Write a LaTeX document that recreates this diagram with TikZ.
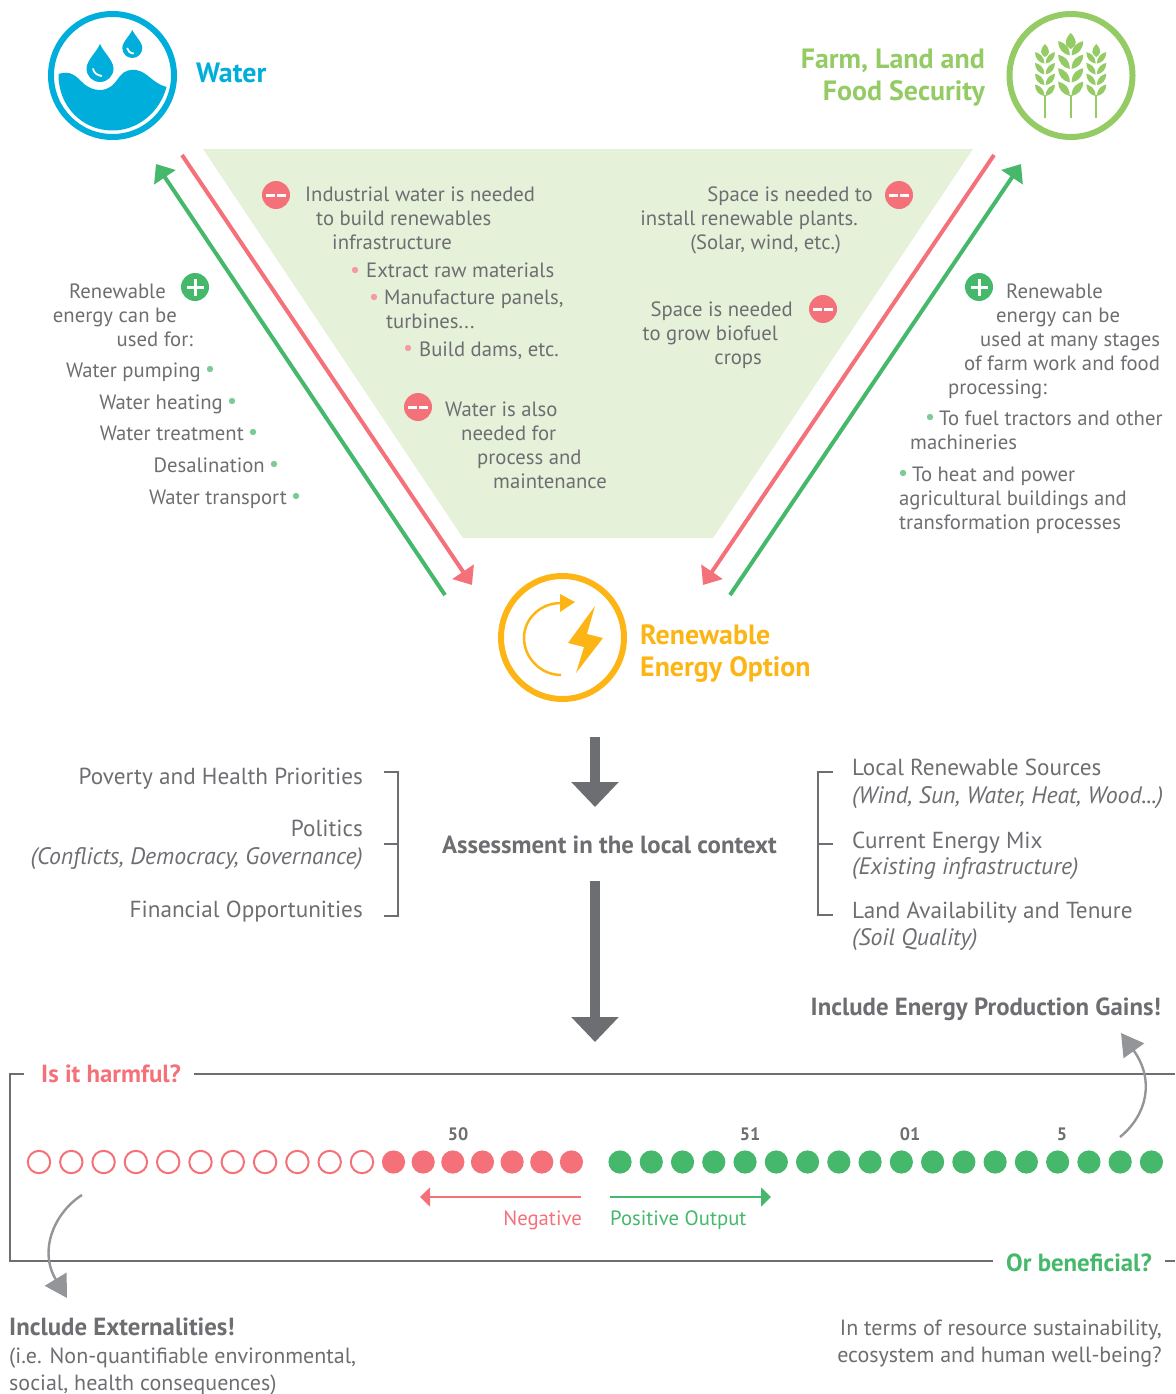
\documentclass[tikz,border=0pt]{standalone}
\usepackage{fontspec}
\setmainfont{PT Sans}
\usetikzlibrary{arrows.meta}
\definecolor{tg}{HTML}{6D6E71}
\definecolor{dg}{HTML}{6D6E71}
\definecolor{cg}{HTML}{939598}
\definecolor{wb}{HTML}{00AEDB}
\definecolor{lg}{HTML}{95CB65}
\definecolor{ye}{HTML}{FDB515}
\definecolor{rd}{HTML}{F4717A}
\definecolor{gr}{HTML}{45B86B}
\definecolor{tri}{HTML}{E6F1DA}
\definecolor{lr}{HTML}{F49AA0}
\definecolor{bg}{HTML}{7CCB97}
\newcommand{\wheat}[3]{%
 \begin{scope}[shift={(#1,96)},scale=#2]
  \foreach \k in {0,1,2,3}{
   \fill[lg,yshift=\k*10.8pt] (-0.7,0) .. controls (-6,-1) and (-10,-5) .. (-10,-11.5) .. controls (-6,-10.5) and (-0.7,-8) .. (-0.7,0);
   \fill[lg,yshift=\k*10.8pt] (0.7,0) .. controls (6,-1) and (10,-5) .. (10,-11.5) .. controls (6,-10.5) and (0.7,-8) .. (0.7,0);
  }
  \fill[lg] (0,-#3) .. controls (-3,-#3+3) and (-4,-#3+6) .. (-4,-#3+8) .. controls (-4,-#3+10) and (-1.5,-#3+12) .. (0,-#3+13) .. controls (1.5,-#3+12) and (4,-#3+10) .. (4,-#3+8) .. controls (4,-#3+6) and (3,-#3+3) .. (0,-#3);
 \end{scope}
 \draw[lg,line width=2] (#1,95) -- (#1,118);}
\newcommand{\dropshape}[3]{%
 \begin{scope}[shift={(#1,#2)},scale=#3]
  \fill[wb] (0,-24.5) .. controls (-3,-17) and (-13.5,-8) .. (-13.5,0) .. controls (-13.5,7.5) and (-7.5,13.5) .. (0,13.5) .. controls (7.5,13.5) and (13.5,7.5) .. (13.5,0) .. controls (13.5,-8) and (3,-17) .. (0,-24.5);
  \draw[white,line width=1.8] (-7,0) .. controls (-6.5,4) and (-3,7) .. (2,7.5);
 \end{scope}}
\tikzset{
 txt/.style={inner sep=0pt,anchor=base west,text=tg,font=\fontsize{20.7}{24}\selectfont},
 rtxt/.style={txt,anchor=base east},
 bigt/.style={txt,font=\fontsize{23.2}{26}\selectfont},
 rbigt/.style={bigt,anchor=base east},
 itt/.style={txt,font=\fontsize{23.8}{26}\itshape\selectfont},
 ritt/.style={itt,anchor=base east},
 head/.style={inner sep=0pt,anchor=base west,font=\fontsize{27.9}{30}\bfseries\selectfont},
 bold/.style={inner sep=0pt,anchor=base west,text=tg,font=\fontsize{24.8}{28}\bfseries\selectfont},
 num/.style={inner sep=0pt,anchor=base,text=tg,font=\fontsize{18}{20}\bfseries\selectfont},
 ring/.style={circle,draw,line width=6pt,minimum size=123pt,inner sep=0pt},
 diag/.style={line width=4pt},
 bracket/.style={draw=dg,line width=1.3pt},
 frameline/.style={draw=dg,line width=1.4pt},
 bigarrow/.style={draw=dg,line width=10pt,-{Triangle[length=25pt,width=46pt]}},
 curved/.style={draw=cg,line width=2.4pt,-{Triangle[length=22pt,width=25pt]}},
 minusdot/.style={circle,fill=rd,minimum size=28pt,inner sep=0pt},
 plusdot/.style={circle,fill=gr,minimum size=28pt,inner sep=0pt},
 wide/.style={font=\fontsize{22}{26}\selectfont},
}
\newcommand{\minusbars}[1]{\fill[white] ([xshift=-10pt,yshift=1.5pt]#1) rectangle +(9,3); \fill[white] ([xshift=1pt,yshift=1.5pt]#1) rectangle +(9,3);}
\newcommand{\plusbars}[1]{\fill[white] ([xshift=-8.5pt,yshift=1.5pt]#1) rectangle +(17,3); \fill[white] ([xshift=-1.5pt,yshift=8.5pt]#1) rectangle +(3,17);}
\begin{document}
\begin{tikzpicture}[x=1pt,y=-1pt]
\useasboundingbox (0,0) rectangle (1175,1394);
% triangle
\fill[tri] (203,149) -- (973,149) -- (713,538) -- (463,538) -- cycle;
% rings
\node[ring,draw=wb] (water) at (112.5,75.5) {};
\node[ring,draw=lg] (farm) at (1071,75.5) {};
\node[ring,draw=ye] (energy) at (562.5,637.5) {};
% water icon
\fill[wb] (58.5,74) .. controls (70,70) and (76,76) .. (82,82) .. controls (88,88) and (94,90) .. (100,90) .. controls (110,90) and (115,83) .. (120,76) .. controls (124,71) and (130,69) .. (136,70) .. controls (148,72) and (152,83) .. (166.5,87) .. controls (160,112) and (138,130.5) .. (112.5,130.5) .. controls (82,130.5) and (58,106) .. (58.5,74) -- cycle;
\dropshape{100}{68.5}{1}
\dropshape{132.3}{48}{0.74}
% wheat icon
\wheat{1045}{1}{52}
\wheat{1070.7}{1.25}{50.5}
\wheat{1096.3}{1}{52}
% energy icon
\draw[ye,line width=2.5] (561,675) .. controls (541,675) and (524,658) .. (524,638) .. controls (524,618) and (541,603) .. (561,603);
\fill[ye] (560,594) -- (575,602) -- (560,612) -- cycle;
\fill[ye] (595,606) -- (568,643) -- (584,647) -- (576,673) -- (603,638) -- (587,634) -- cycle;
% headings
\node[head,text=wb] (hw) at (196,82.5) {Water};
\node[head,text=lg,anchor=base east] (hf1) at (985,68.5) {Farm, Land and};
\node[head,text=lg,anchor=base east] (hf2) at (985,100.5) {Food Security};
\node[head,text=ye] (he1) at (640,644) {Renewable};
\node[head,text=ye] (he2) at (640,676) {Energy Option};
% diagonals
\coordinate (lra) at (182,155); \coordinate (lrb) at (472,585);
\coordinate (lga) at (445,595); \coordinate (lgb) at (156,164);
\coordinate (rra) at (994,155); \coordinate (rrb) at (703,585);
\coordinate (rga) at (730,595); \coordinate (rgb) at (1021,164);
\draw[diag,draw=rd,-{Triangle[length=16pt,width=25pt]}] (lra) -- (lrb);
\draw[diag,draw=gr,-{Triangle[length=16pt,width=25pt]}] (lga) -- (lgb);
\draw[diag,draw=rd,-{Triangle[length=16pt,width=25pt]}] (rra) -- (rrb);
\draw[diag,draw=gr,-{Triangle[length=16pt,width=25pt]}] (rga) -- (rgb);
% minus/plus
\node[minusdot] (m1) at (276,195) {}; \minusbars{m1}
\node[minusdot] (m2) at (899,195) {}; \minusbars{m2}
\node[minusdot] (m3) at (418,407) {}; \minusbars{m3}
\node[minusdot] (m4) at (823,309) {}; \minusbars{m4}
\node[plusdot] (p1) at (195,287) {}; \plusbars{p1}
\node[plusdot] (p2) at (979,287) {}; \plusbars{p2}
% triangle text
\node[txt] (a1) at (305,201) {Industrial water is needed};
\node[txt] (a2) at (316,225) {to build renewables};
\node[txt] (a3) at (332,249) {infrastructure};
\node[txt] (a4) at (366,277) {Extract raw materials};
\node[txt] (a5) at (384,304) {Manufacture panels,};
\node[txt] (a6) at (386,328) {turbines...};
\node[txt] (a7) at (419,356) {Build dams, etc.};
\fill[lr] (355,270) circle (3.2); \fill[lr] (374,297) circle (3.2); \fill[lr] (408,348) circle (3.2);
\node[txt] (a8) at (445,416) {Water is also};
\node[txt] (a9) at (461,440) {needed for};
\node[txt] (a10) at (477,464) {process and};
\node[txt] (a11) at (493,488) {maintenance};
\node[rtxt] (b1) at (873,201) {Space is needed to};
\node[rtxt] (b2) at (858,225) {install renewable plants.};
\node[rtxt] (b3) at (841,249) {(Solar, wind, etc.)};
\node[rtxt] (b4) at (793,316) {Space is needed};
\node[rtxt] (b5) at (778,340) {to grow biofuel};
\node[rtxt] (b6) at (762,364) {crops};
% left text
\node[rtxt] (c1) at (166,298) {Renewable};
\node[rtxt] (c2) at (177,322) {energy can be};
\node[rtxt] (c3) at (193,346) {used for:};
\node[rtxt] (c4) at (201,377) {Water pumping};
\node[rtxt] (c5) at (223,409) {Water heating};
\node[rtxt] (c6) at (244,440) {Water treatment};
\node[rtxt] (c7) at (265,472) {Desalination};
\node[rtxt] (c8) at (287,504) {Water transport};
\fill[bg] (210,369) circle (3.2); \fill[bg] (232,401) circle (3.2); \fill[bg] (253,432) circle (3.2); \fill[bg] (274,464) circle (3.2); \fill[bg] (296,496) circle (3.2);
% right text
\node[txt] (d1) at (1006,298) {Renewable};
\node[txt] (d2) at (996,322) {energy can be};
\node[txt] (d3) at (980,346) {used at many stages};
\node[txt] (d4) at (964,370) {of farm work and food};
\node[txt] (d5) at (948,394) {processing:};
\node[txt] (d6) at (939,425) {To fuel tractors and other};
\node[txt] (d7) at (910,449) {machineries};
\node[txt] (d8) at (912,481) {To heat and power};
\node[txt] (d9) at (899,505) {agricultural buildings and};
\node[txt] (d10) at (899,529) {transformation processes};
\fill[bg] (930,417) circle (3.2); \fill[bg] (903,473) circle (3.2);
% big arrows
\coordinate (ba1) at (595,737); \coordinate (bb1) at (595,807);
\coordinate (ba2) at (595,881); \coordinate (bb2) at (595,1042);
\draw[bigarrow] (ba1) -- (bb1);
\draw[bigarrow] (ba2) -- (bb2);
% context
\node[bold] (ctx) at (442,853) {Assessment in the local context};
\node[rbigt] (e1) at (363,784) {Poverty and Health Priorities};
\node[rbigt] (e2) at (363,836) {Politics};
\node[ritt] (e3) at (363,864) {(Conflicts, Democracy, Governance)};
\node[rbigt] (e4) at (363,917) {Financial Opportunities};
\draw[bracket] (384,772) -- (398,772) -- (398,916) -- (384,916);
\draw[bracket] (384,844) -- (398,844);
\node[bigt] (f1) at (852,775) {Local Renewable Sources};
\node[itt] (f2) at (852,803) {(Wind, Sun, Water, Heat, Wood...)};
\node[bigt] (f3) at (852,848) {Current Energy Mix};
\node[itt] (f4) at (852,874) {(Existing infrastructure)};
\node[bigt] (f5) at (852,918) {Land Availability and Tenure};
\node[itt] (f6) at (852,945) {(Soil Quality)};
\draw[bracket] (833,772) -- (818,772) -- (818,915) -- (833,915);
\draw[bracket] (818,844) -- (833,844);
% frame
\node[bold,text=rd] (harm) at (41,1082) {Is it harmful?};
\node[bold,text=gr] (ben) at (1006,1271) {Or beneficial?};
\draw[frameline] (24,1074) -- (10,1074) -- (10,1261) -- (993,1261);
\draw[frameline] (194,1074) -- (1175,1074);
\draw[frameline] (1165,1261) -- (1175,1261);
% dots
\foreach \i in {0,...,10} \draw[rd,line width=2] (39+\i*32.3,1162) circle (11.2);
\foreach \i in {0,...,6} \fill[rd] (393.5+\i*29.65,1162) circle (11.6);
\foreach \i in {0,...,17} \fill[gr] (620+\i*31.26,1162) circle (11.6);
\node[num] (n1) at (458,1140) {50};
\node[num] (n2) at (750,1140) {51};
\node[num] (n3) at (910,1140) {01};
\node[num] (n4) at (1062,1140) {5};
% output arrows
\coordinate (na) at (581,1197); \coordinate (nb) at (420,1197);
\coordinate (pa) at (610,1197); \coordinate (pb) at (771,1197);
\draw[rd,line width=1.8,-{Triangle[length=10pt,width=19pt]}] (na) -- (nb);
\draw[gr,line width=1.8,-{Triangle[length=10pt,width=19pt]}] (pa) -- (pb);
\node[rtxt,text=rd] (neg) at (582,1225) {Negative};
\node[txt,text=gr] (pos) at (610,1225) {Positive Output};
% curved
\coordinate (ca) at (82,1195); \coordinate (cb) at (67,1298);
\coordinate (da) at (1120,1137); \coordinate (db) at (1121,1033);
\draw[curved] (ca) .. controls (55,1212) and (38,1250) .. (cb);
\draw[curved] (da) .. controls (1147,1115) and (1155,1080) .. (db);
\node[bold,anchor=base east] (gain) at (1161,1015) {Include Energy Production Gains!};
% bottom text
\node[bold] (ext) at (9,1335) {Include Externalities!};
\node[txt,wide] (ext2) at (9,1363) {(i.e. Non-quantifiable environmental,};
\node[txt,wide] (ext3) at (9,1390) {social, health consequences)};
\node[rtxt,wide] (q1) at (1162,1335) {In terms of resource sustainability,};
\node[rtxt,wide] (q2) at (1162,1362) {ecosystem and human well-being?};
\end{tikzpicture}
\end{document}
